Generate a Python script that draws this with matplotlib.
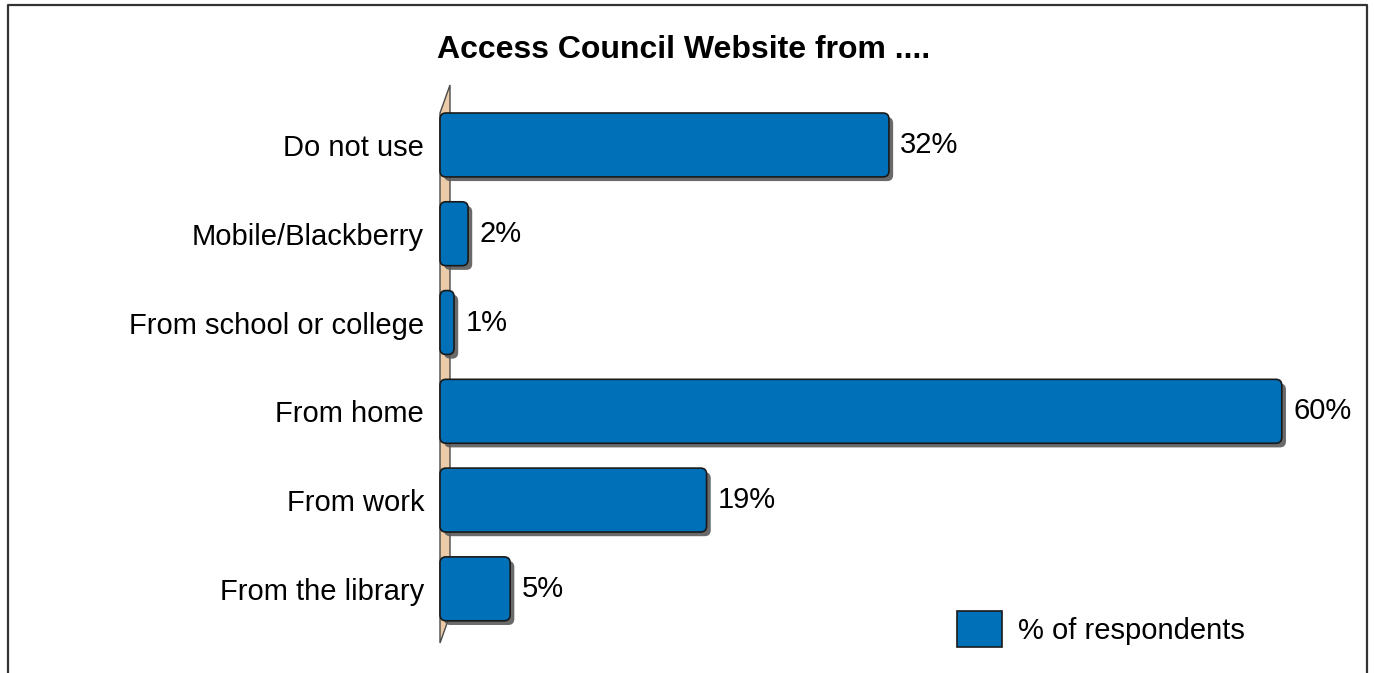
import matplotlib
matplotlib.use("Agg")
import matplotlib.pyplot as plt
import matplotlib.patheffects as pe
from matplotlib.patches import FancyBboxPatch, Polygon, Patch
from matplotlib.lines import Line2D

plt.rcParams['font.family'] = ['Liberation Sans', 'DejaVu Sans']

# survey answers, top to bottom
categories = ['Do not use', 'Mobile/Blackberry', 'From school or college',
              'From home', 'From work', 'From the library']
percent = [32, 2, 1, 60, 19, 5]

bar_color = '#0070B8'
wall_color = '#EBCBA8'

W, H = 1375, 673
fig = plt.figure(figsize=(W / 100, H / 100), dpi=100)

# axes placed in pixel terms: left edge at the wall front
ax_left, ax_right, ax_top, ax_bot = 440, 1300, 113, 643
ax = fig.add_axes([ax_left / W, 1 - ax_bot / H, (ax_right - ax_left) / W, (ax_bot - ax_top) / H])
px_per_unit = 14.03
ax.set_xlim(0, (ax_right - ax_left) / px_per_unit)
ax.set_ylim(5.61, -0.36)
for s in ax.spines.values():
    s.set_visible(False)
ax.set_xticks([])
ax.set_yticks(range(len(categories)))
ax.set_yticklabels(categories, fontsize=21)
ax.tick_params(axis='y', length=0, pad=11.5)

# thin slanted back wall
y0, y1 = ax.get_ylim()
dx, dy = 10 / px_per_unit, 28 / 88.8
wall = Polygon([(0, y1), (dx, y1 - dy), (dx, y0 - dy), (0, y0)], closed=True,
               facecolor=wall_color, edgecolor='#4a4a4a', lw=1, zorder=1, clip_on=False)
ax.add_patch(wall)

# rounded bars with drop shadow
bar_h = 0.72
rx = 6 / px_per_unit
aspect = (6 / 88.8) / rx
shadow = [pe.SimplePatchShadow(offset=(3, -3), shadow_rgbFace='#5a5a5a', alpha=0.9), pe.Normal()]
for i, v in enumerate(percent):
    box = FancyBboxPatch((0, i - bar_h / 2), v, bar_h,
                         boxstyle=f'round,pad=0,rounding_size={rx}',
                         mutation_aspect=aspect, facecolor=bar_color,
                         edgecolor='#1a1a1a', lw=1.2, zorder=3, clip_on=False)
    box.set_path_effects(shadow)
    ax.add_patch(box)
    ax.text(v + 0.8, i, f'{v}%', fontsize=21, va='center', ha='left', zorder=4)

fig.text(684 / W, 1 - 50 / H, 'Access Council Website from ....', fontsize=23,
         fontweight='bold', ha='center', va='center')

handle = Patch(facecolor=bar_color, edgecolor='#1a1a1a', lw=1.2)
fig.legend([handle], ['% of respondents'], loc='center left',
           bbox_to_anchor=(957 / W, 1 - 629 / H), frameon=False, fontsize=21,
           handlelength=1.55, handleheight=1.55, handletextpad=0.55,
           borderpad=0, borderaxespad=0)

# outer frame (open at the bottom)
frame_x = [8 / W, 8 / W, 1367 / W, 1367 / W]
frame_y = [0, 1 - 5 / H, 1 - 5 / H, 0]
fig.add_artist(Line2D(frame_x, frame_y, color='#333333', lw=1.6, transform=fig.transFigure))

fig.savefig('out.png', dpi=100)
